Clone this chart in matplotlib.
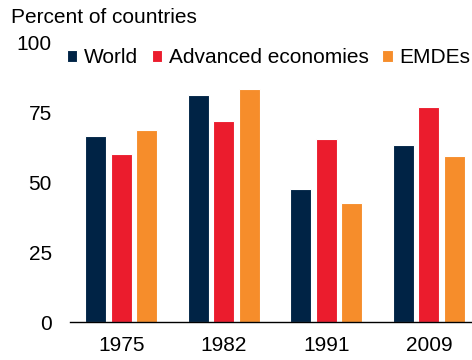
import numpy as np
import matplotlib
matplotlib.use('Agg')
from matplotlib import pyplot as plt

plt.rcParams['font.family'] = ['Liberation Sans', 'DejaVu Sans']

years = ['1975', '1982', '1991', '2009']
series = ['World', 'Advanced economies', 'EMDEs']
world = [66.7, 81.2, 47.5, 63.3]
advanced = [60.2, 72.1, 65.6, 77.1]
emdes = [68.9, 83.5, 42.7, 59.5]
colors = ['#002345', '#EB1C2D', '#F68D2B']

fig = plt.figure(figsize=(4.72, 3.6), dpi=100)
ax = fig.add_axes([0.148, 0.1055, 0.852, 0.7757])

x = np.arange(len(years))
step = 0.25
for i, (name, vals) in enumerate(zip(series, [world, advanced, emdes])):
    ax.bar(x + (i - 1) * step, vals, width=0.205, color=colors[i],
           edgecolor='white', linewidth=0.8, label=name, zorder=2)

ax.set_xlim(-0.5, 3.42)
ax.set_ylim(0, 100)
ax.set_yticks([0, 25, 50, 75, 100])
ax.set_xticks(x)
ax.set_xticklabels(years)
ax.tick_params(axis='both', length=0, labelsize=15, colors='black')
ax.tick_params(axis='y', pad=13)
ax.tick_params(axis='x', pad=10)

for side in ['top', 'right', 'left']:
    ax.spines[side].set_visible(False)
ax.spines['bottom'].set_linewidth(1.0)
ax.spines['bottom'].set_color('black')

fig.text(0.023, 0.936, 'Percent of countries', fontsize=15, ha='left',
         va='baseline')

ax.legend(loc='center left', bbox_to_anchor=(-0.008, 0.947), ncol=3,
          frameon=False, fontsize=15, handlelength=0.5,
          handleheight=0.5, handletextpad=0.33, columnspacing=0.65,
          borderaxespad=0, borderpad=0)

fig.savefig('out.png', dpi=100)
